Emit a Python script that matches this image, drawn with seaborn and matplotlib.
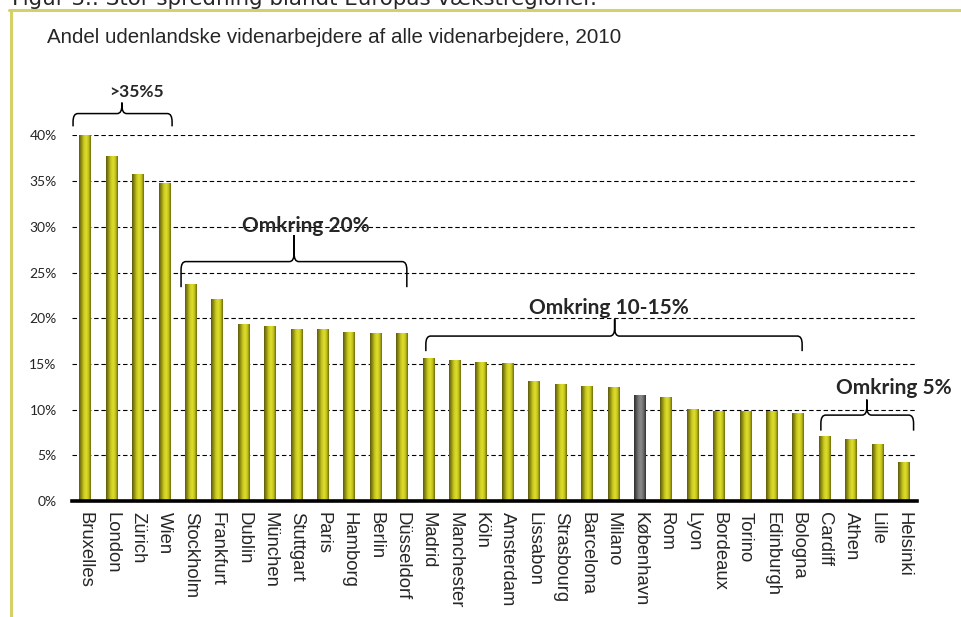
import numpy as np
import pandas as pd
import matplotlib
matplotlib.use('Agg')
import matplotlib.pyplot as plt
from matplotlib.colors import LinearSegmentedColormap, to_hex
from matplotlib.path import Path
from matplotlib.patches import PathPatch
from matplotlib.lines import Line2D
import seaborn as sns

# Data
cities = ['Bruxelles', 'London', 'Zürich', 'Wien', 'Stockholm', 'Frankfurt',
          'Dublin', 'München', 'Stuttgart', 'Paris', 'Hamborg', 'Berlin',
          'Düsseldorf', 'Madrid', 'Manchester', 'Köln', 'Amsterdam',
          'Lissabon', 'Strasbourg', 'Barcelona', 'Milano', 'København', 'Rom',
          'Lyon', 'Bordeaux', 'Torino', 'Edinburgh', 'Bologna', 'Cardiff',
          'Athen', 'Lille', 'Helsinki']
shares = [40.0, 37.7, 35.7, 34.7, 23.7, 22.0, 19.3, 19.1, 18.8, 18.8, 18.4,
          18.3, 18.3, 15.6, 15.4, 15.2, 15.05, 13.05, 12.7, 12.5, 12.4, 11.6,
          11.3, 10.05, 9.75, 9.75, 9.75, 9.6, 7.1, 6.75, 6.2, 4.2]
highlight = 'København'
yticks = [0, 5, 10, 15, 20, 25, 30, 35, 40]

title = 'Figur 3.: Stor spredning blandt Europas vækstregioner.'
subtitle = 'Andel udenlandske videnarbejdere af alle videnarbejdere, 2010'

# (label, first x, last x, tip x, end y, line y, tip y, text x, text y, size)
groups = [
    ('>35%5', -0.46, 3.29, 1.39, 41.0, 42.4, 43.6, 1.95, 44.8, 12.5),
    ('Omkring 20%', 3.63, 12.18, 7.91, 23.4, 26.2, 29.1, 8.36, 30.1, 15),
    ('Omkring 10-15%', 12.9, 27.15, 20.05, 16.4, 18.05, 19.9, 19.85, 21.1, 15),
    ('Omkring 5%', 27.86, 31.37, 29.6, 7.7, 9.4, 11.1, 30.64, 12.4, 15),
]

df = pd.DataFrame({'By': cities, 'Andel': shares})
df['Gruppe'] = np.where(df['By'] == highlight, 'dk', 'andre')

yellow_cmap = LinearSegmentedColormap.from_list(
    'cyl_y', ['#5c5b0b', '#8f8e14', '#c9c81f', '#dede2c', '#c4c31c', '#6d6c0e'])
gray_cmap = LinearSegmentedColormap.from_list(
    'cyl_g', ['#2e2e2e', '#555555', '#7e7e7e', '#8a8a8a', '#6a6a6a', '#333333'])


def draw_brace(ax, x0, x1, xm, yb, yh, yt, cx=0.18, cy=0.9):
    verts = [(x0, yb), (x0, yh - cy), (x0, yh), (x0 + cx, yh),
             (xm - cx, yh), (xm, yh), (xm, yh + cy), (xm, yt),
             (xm, yh + cy), (xm, yh), (xm + cx, yh),
             (x1 - cx, yh), (x1, yh), (x1, yh - cy), (x1, yb)]
    codes = [Path.MOVETO, Path.LINETO, Path.CURVE3, Path.CURVE3,
             Path.LINETO, Path.CURVE3, Path.CURVE3, Path.LINETO,
             Path.LINETO, Path.CURVE3, Path.CURVE3,
             Path.LINETO, Path.CURVE3, Path.CURVE3, Path.LINETO]
    ax.add_patch(PathPatch(Path(verts, codes), fill=False, color='black',
                           lw=1.1, clip_on=False, zorder=5))


def main():
    sns.set_style('white')
    plt.rcParams['font.family'] = ['Liberation Sans', 'DejaVu Sans']

    fig = plt.figure(figsize=(9.61, 6.17), dpi=100)
    ax = fig.add_axes([72 / 961, 116 / 617, 845 / 961, 365.5 / 617])

    sns.barplot(data=df, x='By', y='Andel', hue='Gruppe',
                palette={'andre': '#c9c81f', 'dk': '#6a6a6a'},
                dodge=False, width=0.44, legend=False, ax=ax, zorder=3)

    # cylinder look: replace flat fill with a horizontal gradient
    grad = np.linspace(0, 1, 64).reshape(1, -1)
    for p in list(ax.patches):
        h = p.get_height()
        if h <= 0:
            continue
        x0 = p.get_x()
        w = p.get_width()
        fc = to_hex(p.get_facecolor())
        cmap = gray_cmap if fc == '#6a6a6a' else yellow_cmap
        ax.imshow(grad, extent=[x0, x0 + w, 0, h], aspect='auto',
                  cmap=cmap, zorder=3, interpolation='bilinear')
        p.set_alpha(0)

    ax.set_xlim(-0.5, len(cities) - 0.5)
    ax.set_ylim(0, 40)
    ax.set_aspect('auto')

    # dashed grid
    ax.set_yticks(yticks)
    ax.set_yticklabels([f'{t}%' for t in yticks], family=['Lato', 'DejaVu Sans'],
                       fontsize=10)
    for t in yticks[1:]:
        ax.axhline(t, color='black', lw=0.8, ls=(0, (4, 2.5)), zorder=1)
    ax.tick_params(axis='y', length=0, pad=11)

    ax.set_xticks(range(len(cities)))
    ax.set_xticklabels(cities, rotation=270, ha='center', va='top', fontsize=13.3)
    ax.set_xticks(np.arange(-0.5, len(cities)), minor=True)
    ax.tick_params(axis='x', which='major', length=0, pad=8)
    ax.tick_params(axis='x', which='minor', length=4, width=2, color='black',
                   direction='out')
    ax.set_xlabel('')
    ax.set_ylabel('')

    for side in ['left', 'right', 'top']:
        ax.spines[side].set_visible(False)
    ax.spines['bottom'].set_linewidth(2.6)
    ax.spines['bottom'].set_color('black')
    ax.spines['bottom'].set_zorder(6)

    # group braces
    for lab, x0, x1, xm, yb, yh, yt, tx, ty, fs in groups:
        draw_brace(ax, x0, x1, xm, yb, yh, yt)
        ax.text(tx, ty, lab, ha='center', va='center', fontsize=fs,
                fontweight='bold', family=['Lato', 'DejaVu Sans'],
                clip_on=False, zorder=6)

    # frame and titles
    frame = '#d4d06a'
    fig.add_artist(Line2D([10.5 / 961, 10.5 / 961], [0, 1 - 9.5 / 617],
                          color=frame, lw=2.2, transform=fig.transFigure))
    fig.add_artist(Line2D([9.4 / 961, 1], [1 - 9.5 / 617, 1 - 9.5 / 617],
                          color=frame, lw=2.2, transform=fig.transFigure))
    fig.text(12 / 961, 1 - 5 / 617, title, ha='left', va='baseline',
             fontsize=15.4, family=['DejaVu Sans'])
    fig.text(47 / 961, 1 - 43 / 617, subtitle, ha='left', va='baseline',
             fontsize=14.75)

    fig.savefig('out.png', dpi=100)


if __name__ == "__main__":
    main()
